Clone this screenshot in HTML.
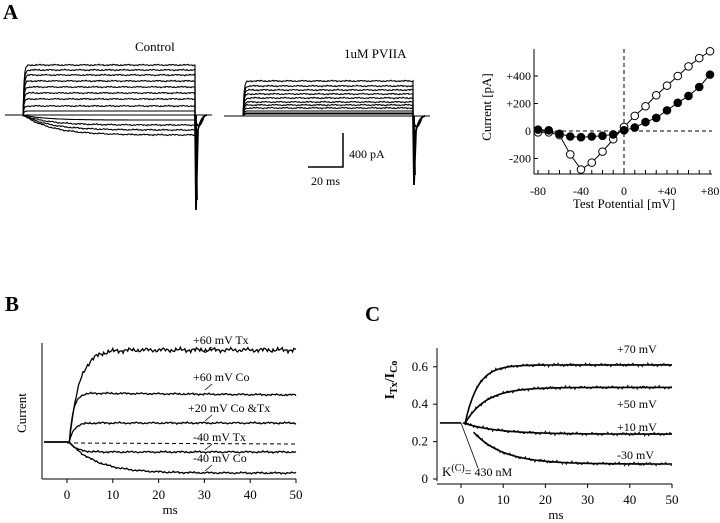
<!DOCTYPE html>
<html><head><meta charset="utf-8"><style>
html,body{margin:0;padding:0;background:#fff;}
svg{display:block;font-family:"Liberation Serif",serif;}
</style></head><body>
<svg id="fig" width="720" height="523" viewBox="0 0 720 523">
<text x="3" y="19" font-size="21" font-weight="bold">A</text>
<text x="135" y="51" font-size="13">Control</text>
<text x="344" y="58" font-size="13">1uM PVIIA</text>
<g id="traces" stroke="#000" fill="none" stroke-width="1.1"></g>
<path d="M343 133 V167 H308" stroke="#000" stroke-width="1.5" fill="none"/>
<text x="349" y="158" font-size="12">400 pA</text>
<text x="311" y="185" font-size="12">20 ms</text>
<g id="iv"></g>
<text x="5" y="311" font-size="21" font-weight="bold">B</text>
<g id="pb"></g>
<text x="365" y="321" font-size="21" font-weight="bold">C</text>
<g id="pc"></g>
</svg>
<script>
// ---- Panel A: I-V data ----
const ivVoltages=[-80,-70,-60,-50,-40,-30,-20,-10,0,10,20,30,40,50,60,70,80];
const ivControl=[-10,-10,-30,-170,-280,-230,-150,-60,30,110,180,260,330,400,470,530,580];
const ivPVIIA=[10,5,-20,-40,-45,-40,-35,-25,5,25,65,95,150,205,255,320,410];
const ivYTicks=[400,200,0,-200];
const ivYTickLabels=["+400","+200","0","-200"];
const ivXTicks=[-80,-40,0,40,80];
const ivXTickLabels=["-80","-40","0","+40","+80"];
// ---- Panel A raw traces plateau levels (px offsets from baseline) ----
const ctrlLevels=[-50,-45,-40,-34,-28,-22,-16,-9,-4,5,10,15,20];
const pvLevels=[-35,-30,-26,-22,-18,-14,-11,-8,-5,-3,-2];
// ---- Panel B ----
const bLabels=["+60 mV Tx","+60 mV Co","+20 mV Co &Tx","-40 mV Tx","-40 mV Co"];
const bPlateau=[92,49,19,-10,-31];
const bTau=[2.2,0.9,1.0,1.5,6];
const bXTicks=[0,10,20,30,40,50];
// ---- Panel C ----
const cLabels=["+70 mV","+50 mV","+10 mV","-30 mV"];
const cStart=[0.3,0.3,0.3,0.25];
const cEnd=[0.61,0.49,0.24,0.08];
const cTau=[3,5,8,7];
const cT0=[1,1,0.5,3];
const cXTicks=[0,10,20,30,40,50];
const cYTicks=[0,0.2,0.4,0.6];
const cYTickLabels=["0","0.2","0.4","0.6"];

const NS="http://www.w3.org/2000/svg";
function mk(tag,attrs,parent,txt){const e=document.createElementNS(NS,tag);for(const k in attrs)e.setAttribute(k,attrs[k]);if(txt!==undefined)e.textContent=txt;parent.appendChild(e);return e;}
function noise(i,s){return Math.sin(i*1.7+s)*0.6+Math.sin(i*0.43+s*2)*0.5+Math.sin(i*3.1+s*3)*0.35;}

// Panel A traces
const tr=document.getElementById('traces');
function traceSet(levels,x0,xs,xe,x1,base,spike,nm){
  mk('line',{x1:x0,y1:base,x2:x1,y2:base},tr);
  levels.forEach((L,k)=>{
    let d=`M${xs} ${base}`;
    for(let x=xs;x<=xe;x+=1){const t=(x-xs);const v=L*(1-Math.exp(-t/(L<0?1:(5+k*2))));d+=` L${x} ${(base+v+(Math.abs(L)>6?noise(x,k)*0.6:0)).toFixed(1)}`;}
    d+=` L${xe} ${base}`;
    const p=mk('path',{d:d},tr);
    
    
  });
  const sp=mk('path',{d:`M${xe} ${base} L${xe+1} ${spike} L${xe+3} ${base+15} Q${xe+6} ${base+1} ${xe+12} ${base} M${xe+1} ${base} L${xe+2} ${spike-10} M${xe} ${base+2} Q${xe+3} ${base+20} ${xe+9} ${base+1}`,'stroke-width':1.8},tr);
  
  
}
traceSet(ctrlLevels,5,23,195,212,115,210,'control');
traceSet(pvLevels,224,243,413,430,116,185,'pviia');

// IV plot
const iv=document.getElementById('iv');
const ivx=v=>624+v*(86/80);
const ivy=v=>131-v*(27.5/200);
mk('line',{x1:534,y1:49,x2:534,y2:174,stroke:'#000'},iv);
mk('line',{x1:534,y1:174,x2:712,y2:174,stroke:'#000'},iv);
for(let v=-80;v<=80;v+=10){mk('line',{x1:ivx(v),y1:174,x2:ivx(v),y2:170,stroke:'#000'},iv);}
ivYTicks.forEach((v,i)=>{mk('line',{x1:534,y1:ivy(v),x2:538,y2:ivy(v),stroke:'#000'},iv);
 const t=mk('text',{x:531,y:ivy(v)+4,'font-size':12,'text-anchor':'end'},iv,ivYTickLabels[i]);
 });
ivXTicks.forEach((v,i)=>{const t=mk('text',{x:ivx(v),y:195,'font-size':12,'text-anchor':'middle'},iv,ivXTickLabels[i]);
 });
mk('line',{x1:534,y1:ivy(0),x2:712,y2:ivy(0),stroke:'#000','stroke-dasharray':'4,3'},iv);
mk('line',{x1:ivx(0),y1:49,x2:ivx(0),y2:174,stroke:'#000','stroke-dasharray':'4,3'},iv);
let t1=mk('text',{x:624,y:208,'font-size':13,'text-anchor':'middle'},iv,'Test Potential [mV]');

let t2=mk('text',{x:0,y:0,'font-size':13,'text-anchor':'middle',transform:'translate(491,107) rotate(-90)'},iv,'Current [pA]');

function ivSeries(vals,fill,nm){
  mk('polyline',{points:ivVoltages.map((v,i)=>ivx(v)+','+ivy(vals[i])).join(' '),fill:'none',stroke:'#000'},iv);
  vals.forEach((y,i)=>{const c=mk('circle',{cx:ivx(ivVoltages[i]),cy:ivy(y),r:3.8,fill:fill,stroke:'#000','stroke-width':1},iv);
    });
}
ivSeries(ivControl,'#fff','iv-control');
ivSeries(ivPVIIA,'#000','iv-pviia');

// Panel B
const pb=document.getElementById('pb');
const bx=t=>67+t*4.58;
const by=v=>442-v;
mk('line',{x1:42,y1:343,x2:42,y2:479,stroke:'#000'},pb);
mk('line',{x1:42,y1:479,x2:296,y2:479,stroke:'#000'},pb);
bXTicks.forEach(v=>{mk('line',{x1:bx(v),y1:479,x2:bx(v),y2:483,stroke:'#000'},pb);
 const t=mk('text',{x:bx(v),y:499,'font-size':13,'text-anchor':'middle'},pb,String(v));
 });
let tb=mk('text',{x:bx(22.5),y:514,'font-size':13,'text-anchor':'middle'},pb,'ms');

tb=mk('text',{x:0,y:0,'font-size':13,'text-anchor':'middle',transform:'translate(26,413) rotate(-90)'},pb,'Current');

mk('line',{x1:bx(0),y1:by(-1),x2:296,y2:by(-2),stroke:'#000','stroke-dasharray':'4,3'},pb);
const bLabY=[344,381,412,441,462];
bPlateau.forEach((P,k)=>{
  let d=`M${bx(-5)} ${by(0)} L${bx(0.5)} ${by(0)}`;
  for(let t=0.5;t<=50;t+=0.25){const v=P*(1-Math.exp(-(t-0.5)/bTau[k]))*(k==1?(1-0.0008*t):1);const n=noise(t*4,k)*(k==0?2:0.8);d+=` L${bx(t).toFixed(1)} ${(by(v)+n*Math.min(1,t/3)).toFixed(1)}`;}
  const p=mk('path',{d:d,fill:'none',stroke:'#000','stroke-width':1.3},pb);
  
  const t=mk('text',{x:k==2?188:193,y:bLabY[k],'font-size':12},pb,bLabels[k]);
  
  mk('line',{x1:212,y1:bLabY[k]+3,x2:205,y2:bLabY[k]+9,stroke:'#000','stroke-width':0.8},pb);
});

// Panel C
const pc=document.getElementById('pc');
const cx=t=>461+t*4.22;
const cy=v=>479-v*187;
mk('line',{x1:437,y1:348,x2:437,y2:481,stroke:'#000'},pc);
mk('line',{x1:437,y1:484,x2:672,y2:484,stroke:'#000'},pc);
cXTicks.forEach(v=>{mk('line',{x1:cx(v),y1:484,x2:cx(v),y2:488,stroke:'#000'},pc);
 const t=mk('text',{x:cx(v),y:504,'font-size':13,'text-anchor':'middle'},pc,String(v));
 });
cYTicks.forEach((v,i)=>{mk('line',{x1:433,y1:cy(v),x2:437,y2:cy(v),stroke:'#000'},pc);
 const t=mk('text',{x:428,y:cy(v)+4,'font-size':13,'text-anchor':'end'},pc,cYTickLabels[i]);
 });
let tc=mk('text',{x:cx(22.5),y:519,'font-size':13,'text-anchor':'middle'},pc,'ms');

tc=mk('text',{x:0,y:0,'font-size':14,'font-weight':'bold','text-anchor':'middle',transform:'translate(394,380) rotate(-90)'},pc);
tc.innerHTML='I<tspan font-size="10" dy="3">Tx</tspan><tspan dy="-3">/I</tspan><tspan font-size="10" dy="3">Co</tspan>';

mk('line',{x1:cx(-5),y1:cy(0.3),x2:cx(0),y2:cy(0.3),stroke:'#000','stroke-width':1.6},pc);
const cLabY=[353,408,431,459];
cEnd.forEach((E,k)=>{
  let fit=`M${cx(cT0[k])} ${cy(cStart[k])}`, raw=fit;
  for(let t=cT0[k];t<=50;t+=0.25){const v=E+(cStart[k]-E)*Math.exp(-(t-cT0[k])/cTau[k]);
    fit+=` L${cx(t).toFixed(1)} ${cy(v).toFixed(1)}`;raw+=` L${cx(t).toFixed(1)} ${(cy(v)+noise(t*4,k+5)*1.6).toFixed(1)}`;}
  const f=mk('path',{d:fit,fill:'none',stroke:'#000','stroke-width':1.6},pc);
  
  const r=mk('path',{d:raw,fill:'none',stroke:'#000','stroke-width':0.7},pc);
  
  const t=mk('text',{x:617,y:cLabY[k],'font-size':12},pc,cLabels[k]);
  
});
mk('line',{x1:cx(0),y1:cy(0.3),x2:478,y2:468,stroke:'#000','stroke-width':0.8},pc);
tc=mk('text',{x:442,y:476,'font-size':13},pc);
tc.innerHTML='K<tspan font-size="10" dy="-5">(C)</tspan><tspan font-size="12" dy="5">= 430 nM</tspan>';

</script>
</body></html>
